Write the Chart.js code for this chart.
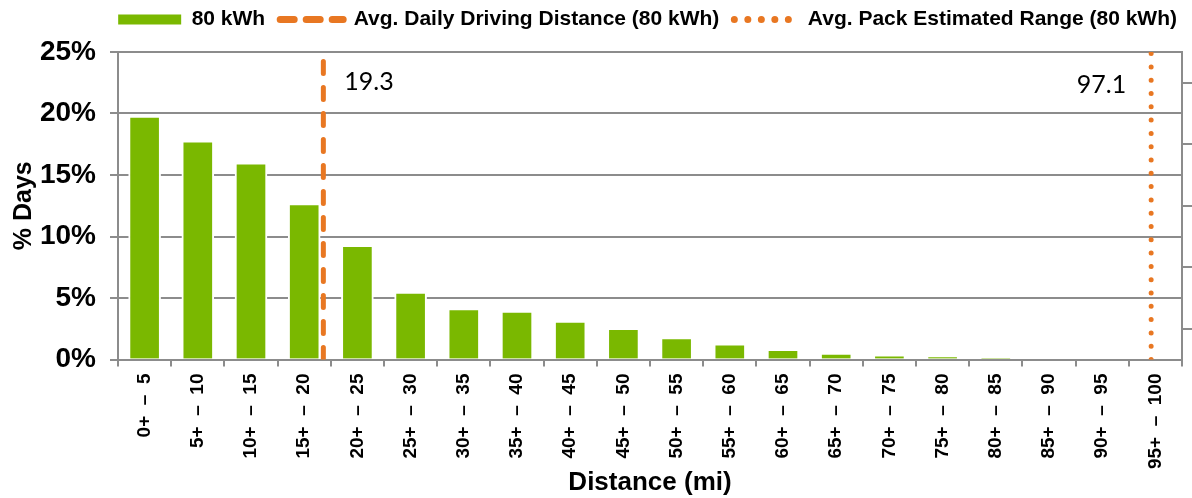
<!DOCTYPE html>
<html>
<head>
<meta charset="utf-8">
<script src="https://cdn.jsdelivr.net/npm/chart.js@4.4.1/dist/chart.umd.min.js"></script>
<style>
html,body{margin:0;padding:0;background:#fff;}
#wrap{width:1192px;height:498px;position:relative;}
</style>
</head>
<body>
<div id="wrap"><canvas id="c"></canvas></div>
<script>
// ---- data ----
const distanceBins = ["0+  –  5","5+  –  10","10+  –  15","15+  –  20","20+  –  25","25+  –  30","30+  –  35","35+  –  40","40+  –  45","45+  –  50","50+  –  55","55+  –  60","60+  –  65","65+  –  70","70+  –  75","75+  –  80","80+  –  85","85+  –  90","90+  –  95","95+  –  100"];
const pctDays = [19.7, 17.7, 15.9, 12.6, 9.2, 5.4, 4.05, 3.85, 3.05, 2.45, 1.7, 1.2, 0.75, 0.45, 0.3, 0.22, 0.1, 0, 0, 0];
const avgDailyDistance = 19.3;
const avgPackRange = 97.1;
const distanceRange = [0, 100];
const yTickValues = [0, 5, 10, 15, 20, 25];
const rightTickValues = [2.5, 7.5, 12.5, 17.5, 22.5];
const legendLabels = ["80 kWh", "Avg. Daily Driving Distance (80 kWh)", "Avg. Pack Estimated Range (80 kWh)"];
const yTitle = "% Days";
const xTitle = "Distance (mi)";

// ---- style ----
const GREEN = '#7AB800', ORANGE = '#E87722', GRID = '#8c8c8c';
Chart.defaults.font.family = "'Liberation Sans', Arial, sans-serif";
Chart.defaults.color = '#000';

const yMin = yTickValues[0], yMax = yTickValues[yTickValues.length - 1];

const legendHeight = {
  id: 'legendHeight',
  beforeInit(chart) {
    const lg = chart.legend;
    if (!lg) return;
    const f = lg.fit;
    lg.fit = function () { f.call(this); this.height = 58; };
  }
};

const valueLabels = {
  id: 'valueLabels',
  afterDatasetsDraw(chart) {
    const { ctx, scales } = chart;
    const x2 = scales.x2, y = scales.y;
    ctx.save();
    ctx.font = '25px Lato, "Open Sans", sans-serif';
    ctx.fillStyle = '#000';
    ctx.textBaseline = 'middle';
    ctx.textAlign = 'left';
    ctx.fillText(avgDailyDistance.toFixed(1), x2.getPixelForValue(avgDailyDistance) + 21, y.top + 30);
    ctx.textAlign = 'right';
    ctx.fillText(avgPackRange.toFixed(1), x2.getPixelForValue(avgPackRange) - 25, y.top + 33);
    ctx.restore();
  }
};

new Chart(document.getElementById('c'), {
  type: 'bar',
  data: {
    labels: distanceBins,
    datasets: [
      {
        type: 'bar',
        label: legendLabels[0],
        data: pctDays,
        backgroundColor: GREEN,
        borderColor: '#ffffff',
        borderWidth: { top: 1, left: 2, right: 2, bottom: 0 },
        grouped: false,
        barThickness: 32,
        xAxisID: 'x', yAxisID: 'y',
        order: 2
      },
      {
        type: 'line',
        label: legendLabels[1],
        data: [{ x: avgDailyDistance, y: yMin }, { x: avgDailyDistance, y: yMax }],
        xAxisID: 'x2', yAxisID: 'y',
        borderColor: ORANGE, borderWidth: 5,
        borderDash: [12, 14], borderCapStyle: 'round',
        pointRadius: 0, fill: false, order: 1
      },
      {
        type: 'line',
        label: legendLabels[2],
        data: [{ x: avgPackRange, y: yMin }, { x: avgPackRange, y: yMax }],
        xAxisID: 'x2', yAxisID: 'y',
        borderColor: ORANGE, borderWidth: 5,
        borderDash: [0, 13.3], borderCapStyle: 'round',
        pointRadius: 0, fill: false, order: 1
      }
    ]
  },
  options: {
    responsive: true,
    maintainAspectRatio: false,
    animation: false,
    layout: { padding: { top: -6, left: 0, right: 0, bottom: 0 } },
    plugins: {
      tooltip: { enabled: false },
      legend: {
        position: 'top',
        align: 'end',
        labels: {
          usePointStyle: true,
          pointStyleWidth: 63,
          padding: 15,
          font: { size: 21, weight: 'bold' },
          color: '#000',
          generateLabels: () => [
            { text: legendLabels[0], fillStyle: GREEN, strokeStyle: GREEN, lineWidth: 10, lineCap: 'butt', lineDash: [], pointStyle: 'line', datasetIndex: 0, hidden: false, fontColor: '#000' },
            { text: legendLabels[1], fillStyle: ORANGE, strokeStyle: ORANGE, lineWidth: 7, lineCap: 'round', lineDash: [14, 12], pointStyle: 'line', datasetIndex: 1, hidden: false, fontColor: '#000' },
            { text: legendLabels[2], fillStyle: ORANGE, strokeStyle: ORANGE, lineWidth: 7, lineCap: 'round', lineDash: [0, 13.5], pointStyle: 'line', datasetIndex: 2, hidden: false, fontColor: '#000' }
          ]
        }
      }
    },
    scales: {
      x: {
        type: 'category',
        offset: true,
        afterFit(s) { s.height = 138.5; },
        border: { display: true, color: GRID, width: 2 },
        grid: { display: true, drawOnChartArea: false, drawTicks: true, tickLength: 7, color: GRID, lineWidth: 2, offset: true },
        ticks: { autoSkip: false, maxRotation: 90, minRotation: 90, padding: 7, font: { size: 19, weight: 'bold' }, color: '#000' },
        title: { display: true, text: xTitle, font: { size: 26, weight: 'bold' }, color: '#000', padding: { top: 0, bottom: 0 } }
      },
      x2: { type: 'linear', min: distanceRange[0], max: distanceRange[1], offset: false, display: false },
      y: {
        position: 'left',
        min: yMin, max: yMax,
        afterFit(s) { s.width = 118; },
        afterBuildTicks(s) { s.ticks = yTickValues.map(v => ({ value: v })); },
        border: { display: true, color: GRID, width: 2 },
        grid: { color: GRID, lineWidth: 2, tickLength: 8, drawTicks: true },
        ticks: { padding: 14, font: { size: 28, weight: 'bold' }, color: '#000', callback: v => v + '%' },
        title: { display: true, text: yTitle, font: { size: 25, weight: 'bold' }, color: '#000', padding: { top: 9, bottom: 0 } }
      },
      y2: {
        position: 'right',
        min: yMin, max: yMax,
        offset: false,
        afterBuildTicks(s) { s.ticks = rightTickValues.map(v => ({ value: v })); },
        afterFit(s) { s.width = 10; },
        border: { display: true, color: GRID, width: 2 },
        grid: { drawOnChartArea: false, drawTicks: true, tickLength: 10, color: GRID, lineWidth: 2 },
        ticks: { display: false }
      }
    }
  },
  plugins: [legendHeight, valueLabels]
});
</script>
</body>
</html>
